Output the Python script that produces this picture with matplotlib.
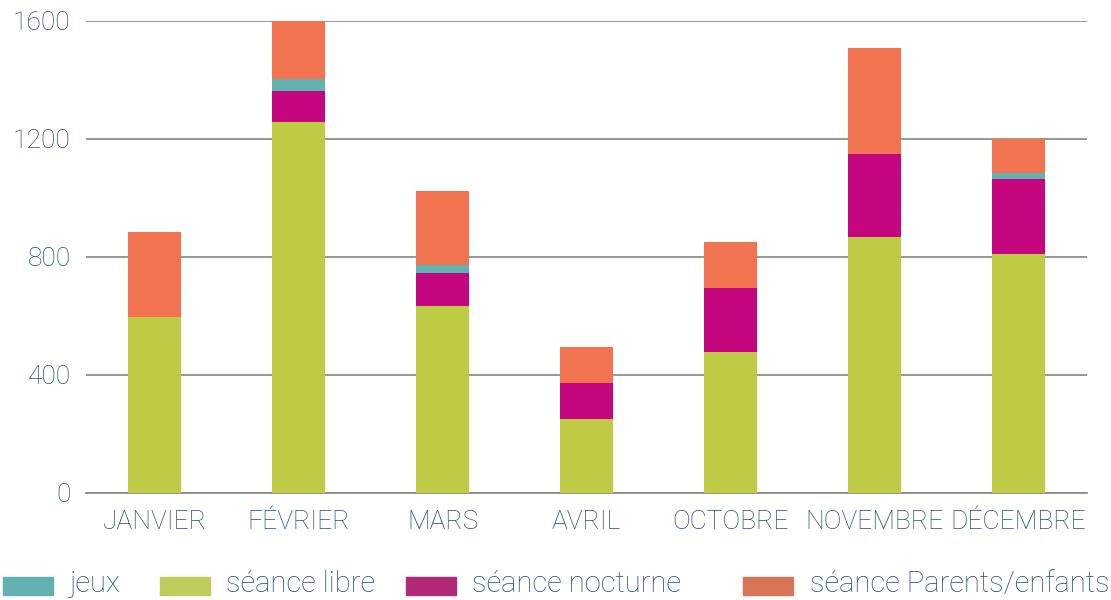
import numpy as np
import matplotlib.pyplot as plt
from matplotlib.patches import Rectangle

# ----- data ----------------------------------------------------------
months    = ["JANVIER", "FÉVRIER", "MARS", "AVRIL", "OCTOBRE", "NOVEMBRE", "DÉCEMBRE"]
libre     = [597, 1258, 634, 251, 478, 868, 810]
nocturne  = [0, 105, 112, 122, 217, 281, 254]
jeux      = [0, 40, 27, 0, 0, 0, 21]
parents   = [288, 197, 251, 122, 156, 359, 115]

legend_labels = ["jeux", "séance libre", "séance nocturne", "séance Parents/enfants"]

bar_colors    = {"jeux": "#62b2b2", "libre": "#bfcb45", "nocturne": "#c5067f", "parents": "#f27350"}
legend_colors = ["#62b1b0", "#bfcb5a", "#b02a78", "#d97556"]
txt_color = "#214e7e"

plt.rcParams['font.family'] = ['Roboto', 'DejaVu Sans']
plt.rcParams['font.weight'] = 'light'

W, H = 1111, 600
fig = plt.figure(figsize=(W / 100, H / 100), dpi=100)
ax = fig.add_axes([86 / W, 107 / H, 1001 / W, 472 / H])

x = np.arange(len(months))
w = 0.37
bottom = np.zeros(len(months))
for vals, key in [(libre, "libre"), (nocturne, "nocturne"), (jeux, "jeux"), (parents, "parents")]:
    ax.bar(x, vals, w, bottom=bottom, color=bar_colors[key], zorder=3)
    bottom += np.array(vals)

ax.set_xlim(-0.476, len(months) - 1 + 0.476)
ax.set_ylim(0, 1600)
ax.set_yticks([0, 400, 800, 1200, 1600])
ax.yaxis.grid(True, color="#8c8c8c", linewidth=1.3, zorder=0)
ax.set_axisbelow(True)
for s in ["top", "right", "left"]:
    ax.spines[s].set_visible(False)
ax.spines["bottom"].set_color("#8c8c8c")
ax.spines["bottom"].set_linewidth(1.3)

ax.set_xticks(x, months)
ax.tick_params(axis="both", length=0, labelsize=19, labelcolor=txt_color)
ax.tick_params(axis="x", pad=12)
ax.tick_params(axis="y", pad=11)

# ----- legend row, placed by hand (pixel positions from the reference) -----
patch_x = [3, 160, 406, 743]
text_x  = [70, 226, 472, 810]
for px, tx, lab, col in zip(patch_x, text_x, legend_labels, legend_colors):
    fig.patches.append(Rectangle((px / W, 5 / H), 50 / W, 18 / H,
                                 transform=fig.transFigure, color=col))
    fig.text(tx / W, 8 / H, lab, fontsize=21, color=txt_color, va="baseline", ha="left")

fig.savefig("out.png", dpi=100)
